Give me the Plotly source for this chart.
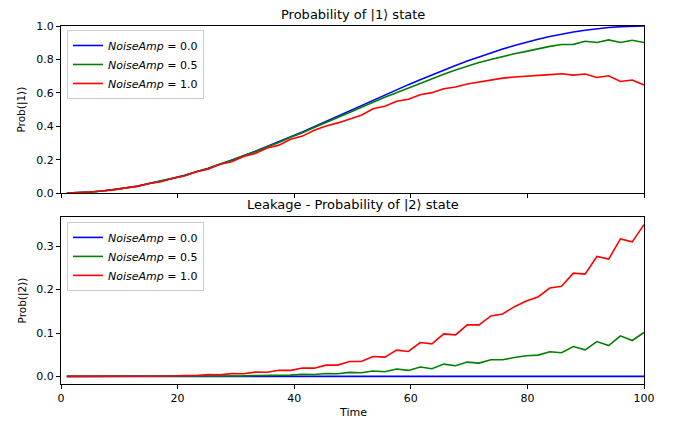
import plotly.graph_objects as go

time = [1.00, 3.02, 5.04, 7.06, 9.08, 11.10, 13.12, 15.14, 17.16, 19.18,
        21.20, 23.22, 25.24, 27.27, 29.29, 31.31, 33.33, 35.35, 37.37, 39.39,
        41.41, 43.43, 45.45, 47.47, 49.49, 51.51, 53.53, 55.55, 57.57, 59.59,
        61.61, 63.63, 65.65, 67.67, 69.69, 71.71, 73.73, 75.76, 77.78, 79.80,
        81.82, 83.84, 85.86, 87.88, 89.90, 91.92, 93.94, 95.96, 97.98, 100.00]

noise_labels = ["0.0", "0.5", "1.0"]

p1_amp00 = [0.000, 0.002, 0.006, 0.012, 0.020, 0.030, 0.042, 0.056, 0.071, 0.088,
            0.107, 0.127, 0.149, 0.173, 0.197, 0.223, 0.250, 0.278, 0.307, 0.336,
            0.366, 0.397, 0.429, 0.460, 0.492, 0.524, 0.555, 0.587, 0.618, 0.649,
            0.678, 0.708, 0.736, 0.764, 0.790, 0.815, 0.839, 0.862, 0.883, 0.903,
            0.921, 0.937, 0.952, 0.964, 0.975, 0.984, 0.991, 0.996, 0.999, 1.000]
p1_amp05 = [0.000, 0.002, 0.006, 0.012, 0.020, 0.031, 0.041, 0.057, 0.070, 0.089,
            0.105, 0.128, 0.147, 0.174, 0.195, 0.223, 0.247, 0.277, 0.303, 0.334,
            0.361, 0.393, 0.421, 0.453, 0.482, 0.514, 0.543, 0.573, 0.601, 0.631,
            0.657, 0.685, 0.711, 0.736, 0.759, 0.782, 0.800, 0.819, 0.834, 0.848,
            0.865, 0.878, 0.889, 0.890, 0.909, 0.901, 0.917, 0.901, 0.915, 0.901]
p1_amp10 = [0.000, 0.002, 0.006, 0.012, 0.019, 0.031, 0.040, 0.057, 0.068, 0.089,
            0.102, 0.128, 0.142, 0.172, 0.188, 0.219, 0.237, 0.270, 0.287, 0.322,
            0.341, 0.376, 0.402, 0.420, 0.445, 0.466, 0.505, 0.520, 0.550, 0.561,
            0.588, 0.601, 0.624, 0.635, 0.653, 0.665, 0.678, 0.688, 0.695, 0.701,
            0.706, 0.709, 0.714, 0.706, 0.713, 0.692, 0.702, 0.668, 0.677, 0.647]

p2_amp00 = [0.0] * 50
p2_amp05 = [0.0, 0.0, 0.0, 0.0, 0.0, 0.0, 0.0, 0.0, 0.0001, 0.0001,
            0.0003, 0.0003, 0.0007, 0.0006, 0.0013, 0.0012, 0.0021, 0.0019, 0.0033, 0.0030,
            0.0048, 0.0044, 0.0068, 0.0062, 0.0093, 0.0085, 0.0123, 0.0108, 0.0169, 0.0138,
            0.0215, 0.0177, 0.0284, 0.0246, 0.0330, 0.0307, 0.0383, 0.0383, 0.0437, 0.0475,
            0.0490, 0.0567, 0.0544, 0.0689, 0.0613, 0.0804, 0.0712, 0.0934, 0.0827, 0.1011]
p2_amp10 = [0.0, 0.0, 0.0, 0.0, 0.0001, 0.0001, 0.0004, 0.0004, 0.0010, 0.0010,
            0.0022, 0.0020, 0.0040, 0.0038, 0.0065, 0.0060, 0.0098, 0.0095, 0.0140, 0.0140,
            0.0195, 0.0190, 0.0260, 0.0260, 0.0344, 0.0344, 0.0459, 0.0444, 0.0605, 0.0574,
            0.0781, 0.0750, 0.0980, 0.0957, 0.1187, 0.1187, 0.1393, 0.1440, 0.1607, 0.1737,
            0.1830, 0.2036, 0.2075, 0.2380, 0.2358, 0.2764, 0.2702, 0.3168, 0.3100, 0.3498]

colors = ["#0000ff", "#008000", "#ff0000"]
FONT = "DejaVu Sans"

fig = go.Figure()
top_series = [p1_amp00, p1_amp05, p1_amp10]
bot_series = [p2_amp00, p2_amp05, p2_amp10]
for lab, ys, c in zip(noise_labels, top_series, colors):
    fig.add_trace(go.Scatter(x=time, y=ys, mode="lines", line=dict(color=c, width=1.6),
                             name="<i>NoiseAmp</i> = " + lab, xaxis="x", yaxis="y",
                             legend="legend"))
for lab, ys, c in zip(noise_labels, bot_series, colors):
    fig.add_trace(go.Scatter(x=time, y=ys, mode="lines", line=dict(color=c, width=1.6),
                             name="<i>NoiseAmp</i> = " + lab, xaxis="x2", yaxis="y2",
                             legend="legend2"))

axis_common = dict(showline=True, linecolor="black", linewidth=1, mirror=True,
                   ticks="outside", ticklen=4, tickcolor="black", showgrid=False,
                   zeroline=False, tickfont=dict(family=FONT, size=11, color="black"))

legend_common = dict(bgcolor="rgba(255,255,255,0.8)", bordercolor="#cccccc", borderwidth=1,
                     font=dict(family=FONT, size=11, color="black"), itemwidth=30,
                     xanchor="left", yanchor="top", tracegroupgap=0)

# The page body adds ~8px offset; figure is sized so the axes land where the reference has them.
OFF = 8
W, H = 678 - OFF, 421 - OFF
ML, MR, MT, MB = 61 - OFF, 34, 24 - OFF, 37
plot_h = H - MT - MB
plot_w = W - ML - MR


def py(ywin):
    return (H - MB - (ywin - OFF)) / plot_h


def px(xwin):
    return ((xwin - OFF) - ML) / plot_w


fig.update_layout(
    width=W, height=H,
    margin=dict(l=ML, r=MR, t=MT, b=MB),
    paper_bgcolor="white", plot_bgcolor="white",
    font=dict(family=FONT, size=11, color="black"),
    xaxis=dict(domain=[0, 1], range=[0, 100], anchor="y", tickvals=[0, 20, 40, 60, 80, 100],
               showticklabels=False, **axis_common),
    yaxis=dict(domain=[py(192), 1], range=[0, 1], anchor="x",
               tickvals=[0, 0.2, 0.4, 0.6, 0.8, 1.0], tickformat=".1f", **axis_common),
    xaxis2=dict(domain=[0, 1], range=[0, 100], anchor="y2", tickvals=[0, 20, 40, 60, 80, 100],
                **axis_common),
    yaxis2=dict(domain=[0, py(216)], range=[-0.0175, 0.3675], anchor="x2",
                tickvals=[0, 0.1, 0.2, 0.3], tickformat=".1f", **axis_common),
    legend=dict(x=px(67), y=py(28), **legend_common),
    legend2=dict(x=px(67), y=py(221), **legend_common),
    annotations=[
        dict(text="Probability of |1⟩ state", x=px(352.5), xref="paper", y=py(12), yref="paper",
             xanchor="center", yanchor="middle", showarrow=False, font=dict(family=FONT, size=13)),
        dict(text="Leakage - Probability of |2⟩ state", x=px(352.5), xref="paper", y=py(203),
             yref="paper", xanchor="center", yanchor="middle", showarrow=False,
             font=dict(family=FONT, size=13)),
        dict(text="Prob(|1⟩)", x=px(22), xref="paper", y=py(108), yref="paper", textangle=-90,
             xanchor="center", yanchor="middle", showarrow=False, font=dict(family=FONT, size=10.5)),
        dict(text="Prob(|2⟩)", x=px(22), xref="paper", y=py(300), yref="paper", textangle=-90,
             xanchor="center", yanchor="middle", showarrow=False, font=dict(family=FONT, size=10.5)),
        dict(text="Time", x=px(352.5), xref="paper", y=py(413), yref="paper",
             xanchor="center", yanchor="middle", showarrow=False, font=dict(family=FONT, size=11)),
    ],
)

fig.write_html("out.html")
